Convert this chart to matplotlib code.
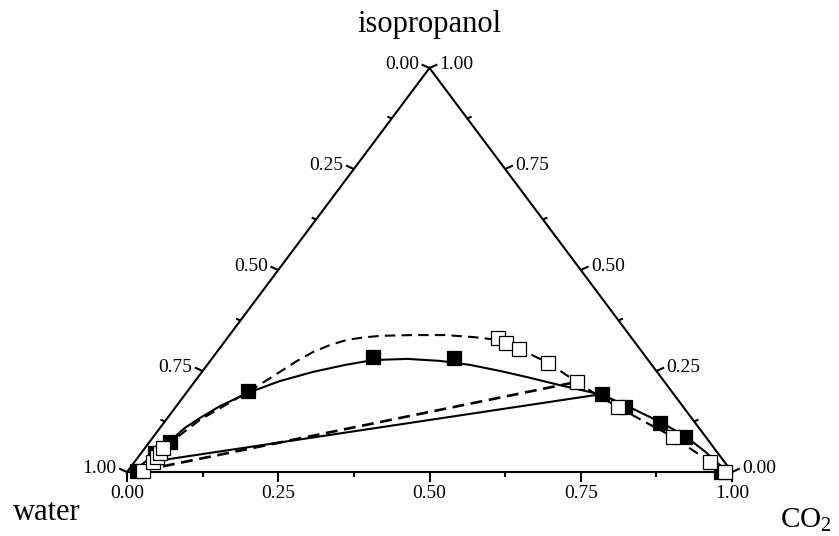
import numpy as np
import matplotlib.pyplot as plt

plt.rcParams['font.family'] = ['Liberation Serif', 'DejaVu Serif']
plt.rcParams['mathtext.fontset'] = 'custom'
plt.rcParams['mathtext.rm'] = 'Liberation Serif'

# compositions as (CO2 fraction, isopropanol fraction); water = 1 - both
filled_co2 = [0.015, 0.023, 0.034, 0.100, 0.264, 0.399, 0.689, 0.743, 0.820, 0.879, 0.982]
filled_ipa = [0.002, 0.047, 0.074, 0.200, 0.285, 0.282, 0.193, 0.161, 0.121, 0.087, 0.000]

open_co2 = [0.026, 0.031, 0.031, 0.031, 0.030, 0.447, 0.467, 0.496, 0.561, 0.633, 0.731, 0.859, 0.951, 0.988]
open_ipa = [0.002, 0.025, 0.037, 0.047, 0.059, 0.332, 0.319, 0.304, 0.270, 0.223, 0.161, 0.087, 0.025, 0.000]

# binodal curves
solid_co2 = [0.008, 0.014, 0.021, 0.026, 0.033, 0.041, 0.054, 0.072, 0.102, 0.140, 0.184, 0.228, 0.268,
             0.323, 0.380, 0.435, 0.492, 0.550, 0.608, 0.666, 0.690, 0.740, 0.819, 0.878, 0.931, 0.974, 0.992]
solid_ipa = [0.000, 0.015, 0.035, 0.057, 0.077, 0.109, 0.134, 0.163, 0.196, 0.225, 0.248, 0.265, 0.277,
             0.280, 0.275, 0.265, 0.250, 0.233, 0.215, 0.198, 0.191, 0.166, 0.124, 0.089, 0.050, 0.015, 0.000]

dashed_co2 = [0.025, 0.031, 0.031, 0.034, 0.042, 0.056, 0.075, 0.101, 0.115, 0.129, 0.143, 0.159, 0.178,
              0.200, 0.224, 0.250, 0.303, 0.356, 0.405, 0.450, 0.496, 0.561, 0.632, 0.689, 0.731, 0.794,
              0.859, 0.914, 0.951, 0.988]
dashed_ipa = [0.002, 0.025, 0.047, 0.067, 0.092, 0.129, 0.158, 0.198, 0.223, 0.248, 0.274, 0.297, 0.314,
              0.327, 0.333, 0.337, 0.339, 0.339, 0.334, 0.327, 0.305, 0.270, 0.223, 0.186, 0.161, 0.124,
              0.087, 0.050, 0.025, 0.000]

# tie lines
tie_solid_co2 = [0.026, 0.689]
tie_solid_ipa = [0.025, 0.193]
tie_dashed_co2 = [0.027, 0.632]
tie_dashed_ipa = [0.005, 0.223]

tick_values = [0.0, 0.25, 0.5, 0.75, 1.0]
tick_labels = ["0.00", "0.25", "0.50", "0.75", "1.00"]
minor_values = [0.125, 0.375, 0.625, 0.875]

H = np.sqrt(3) / 2


def to_xy(co2, ipa):
    co2 = np.asarray(co2)
    ipa = np.asarray(ipa)
    return co2 + ipa / 2, ipa * H


fig = plt.figure(figsize=(8.39, 5.36), dpi=100)
ax = fig.add_axes([0, 0, 1, 1])
ax.set_xlim(-0.20992, 1.17686)
ax.set_ylim(-0.13719, 1.01179)
ax.axis('off')

LW = 1.5

# triangle
ax.plot([0, 1, 0.5, 0], [0, 0, H, 0], color='black', lw=LW, solid_joinstyle='miter')

px_y = H / 404  # data units per pixel vertically
bottom_dir = np.array([0, -1.0])
left_dir = np.array([-np.cos(np.pi / 6), np.sin(np.pi / 6)])
right_dir = np.array([np.cos(np.pi / 6), np.sin(np.pi / 6)])


def draw_tick(p, d, length, lw=LW):
    if d[0] == 0:
        q = (p[0], p[1] - length * px_y)
    else:
        q = (p[0] + d[0] * length / 605, p[1] + d[1] * length / 605 * (404 / H) * px_y)
    ax.plot([p[0], q[0]], [p[1], q[1]], color='black', lw=lw, solid_capstyle='butt')
    return q


for v, lab in zip(tick_values, tick_labels):
    # bottom axis: CO2
    q = draw_tick((v, 0), bottom_dir, 10)
    ax.text(v, q[1] - 3 * px_y, lab, ha='center', va='top', fontsize=14)
    # left axis: water, 0 at top
    p = ((1 - v) / 2, (1 - v) * H)
    q = draw_tick(p, left_dir, 9)
    ax.text(q[0] - 0.004, q[1], lab, ha='right', va='center', fontsize=14)
    # right axis: isopropanol, 0 at bottom right
    p = (1 - v / 2, v * H)
    q = draw_tick(p, right_dir, 9)
    ax.text(q[0] + 0.004, q[1], lab, ha='left', va='center', fontsize=14)

for v in minor_values:
    draw_tick((v, 0), bottom_dir, 5)
    draw_tick(((1 - v) / 2, (1 - v) * H), left_dir, 5)
    draw_tick((1 - v / 2, v * H), right_dir, 5)

dash = (0, (5, 3))

x, y = to_xy(solid_co2, solid_ipa)
ax.plot(x, y, color='black', lw=LW)
x, y = to_xy(dashed_co2, dashed_ipa)
ax.plot(x, y, color='black', lw=LW, ls=dash)
x, y = to_xy(tie_solid_co2, tie_solid_ipa)
ax.plot(x, y, color='black', lw=LW)
x, y = to_xy(tie_dashed_co2, tie_dashed_ipa)
ax.plot(x, y, color='black', lw=1.9, ls=(0, (4.5, 2.5)))

x, y = to_xy(filled_co2, filled_ipa)
ax.plot(x, y, 's', color='black', ms=9.5, mew=0.9, ls='none')
x, y = to_xy(open_co2, open_ipa)
ax.plot(x, y, 's', mfc='white', mec='black', ms=9.5, mew=0.9, ls='none')

fig.text(429 / 839, 1 - 32 / 536, "isopropanol", ha='center', va='baseline', fontsize=22)
fig.text(47 / 839, 1 - 520 / 536, "water", ha='center', va='baseline', fontsize=22)
fig.text(780 / 839, 1 - 527 / 536, r"CO$_\mathregular{2}$", ha='left', va='baseline', fontsize=21)

plt.savefig("out.png", dpi=100)
